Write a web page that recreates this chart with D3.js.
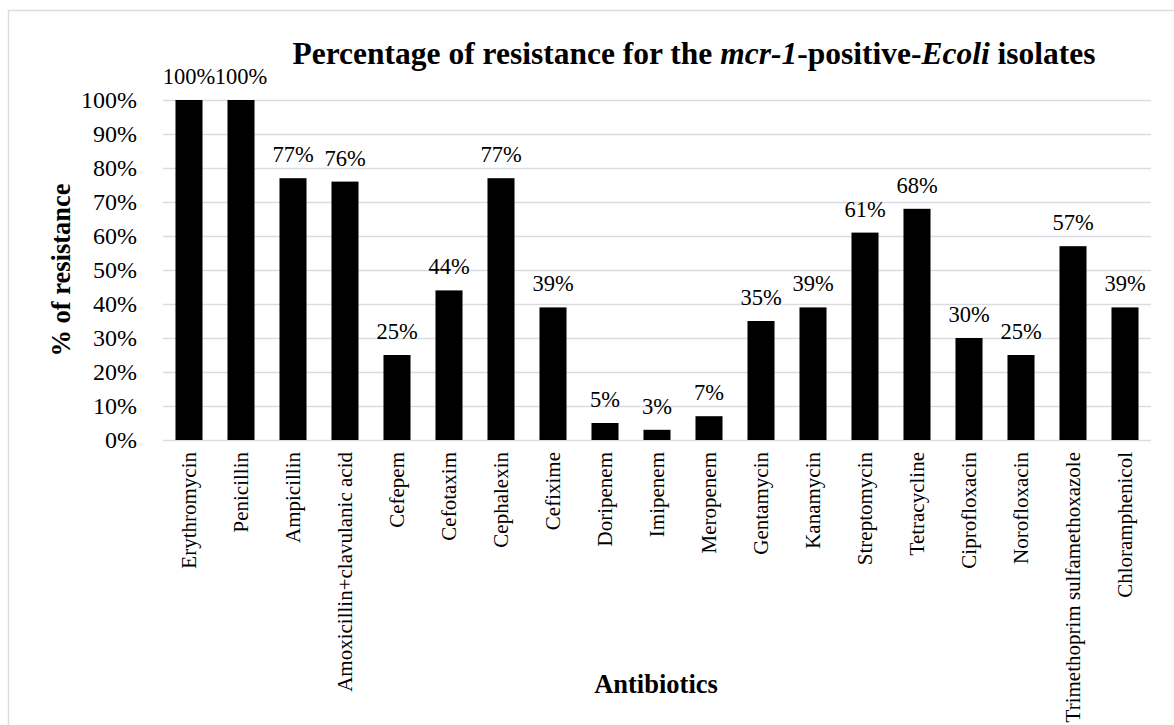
<!DOCTYPE html>
<html>
<head>
<meta charset="utf-8">
<script src="https://cdn.jsdelivr.net/npm/d3@7"></script>
<style>
  html, body { margin: 0; padding: 0; background: #ffffff; }
  svg { display: block; }
  text { font-family: "Liberation Serif", "Times New Roman", serif; fill: #000; }
</style>
</head>
<body>
<svg id="chart" width="1174" height="725"></svg>
<script>
// Antibiotic names along the x axis
const antibiotics = [
  "Erythromycin", "Penicillin", "Ampicillin", "Amoxicillin+clavulanic acid",
  "Cefepem", "Cefotaxim", "Cephalexin", "Cefixime", "Doripenem", "Imipenem",
  "Meropenem", "Gentamycin", "Kanamycin", "Streptomycin", "Tetracycline",
  "Ciprofloxacin", "Norofloxacin", "Trimethoprim sulfamethoxazole", "Chloramphenicol"
];
// Percentage of resistant isolates for each antibiotic
const resistance = [100, 100, 77, 76, 25, 44, 77, 39, 5, 3, 7, 35, 39, 61, 68, 30, 25, 57, 39];
// Y axis ticks (percent)
const yTicks = [0, 10, 20, 30, 40, 50, 60, 70, 80, 90, 100];

const svg = d3.select("#chart");

// outer frame
svg.append("rect")
  .attr("x", 8.5).attr("y", 10.5)
  .attr("width", 1200).attr("height", 800)
  .attr("fill", "none").attr("stroke", "#d9dde3").attr("stroke-width", 1.5);

const margin = { left: 163, right: 1151, top: 100, bottom: 440 };

const x = d3.scaleBand()
  .domain(antibiotics)
  .range([margin.left, margin.right])
  .paddingInner(0.48)
  .paddingOuter(0.24);

const y = d3.scaleLinear().domain([0, 100]).range([margin.bottom, margin.top]);

// gridlines + y tick labels via d3 axis
const yAxis = d3.axisLeft(y)
  .tickValues(yTicks)
  .tickSize(-(margin.right - margin.left))
  .tickPadding(26)
  .tickFormat(d => d + "%");

const gy = svg.append("g")
  .attr("transform", `translate(${margin.left},0)`)
  .call(yAxis);
gy.select(".domain").remove();
gy.selectAll(".tick line").attr("stroke", "#d9dde3").attr("stroke-width", 1.5);
gy.selectAll(".tick text")
  .attr("dy", "0.33em")
  .attr("text-anchor", "end")
  .attr("font-family", null)
  .attr("font-size", 24);

// bars
svg.append("g").selectAll("rect")
  .data(resistance)
  .join("rect")
  .attr("x", (d, i) => x(antibiotics[i]))
  .attr("y", d => y(d))
  .attr("width", x.bandwidth())
  .attr("height", d => y(0) - y(d))
  .attr("fill", "#000");

// value labels
svg.append("g").selectAll("text")
  .data(resistance)
  .join("text")
  .attr("text-anchor", "middle")
  .attr("font-size", 22.5)
  .attr("x", (d, i) => x(antibiotics[i]) + x.bandwidth() / 2)
  .attr("y", d => y(d) - 16)
  .text(d => d + "%");

// category labels, rotated
svg.append("g").selectAll("text")
  .data(antibiotics)
  .join("text")
  .attr("text-anchor", "end")
  .attr("font-size", 21)
  .attr("transform", d =>
    `translate(${x(d) + x.bandwidth() / 2 + 7},452) rotate(-90)`)
  .text(d => d);

// chart title
const title = svg.append("text")
  .attr("text-anchor", "middle")
  .attr("font-size", 31.5)
  .attr("font-weight", "bold")
  .attr("x", 694).attr("y", 64);
title.append("tspan").text("Percentage of resistance for the ");
title.append("tspan").attr("font-style", "italic").text("mcr-1");
title.append("tspan").text("-positive-");
title.append("tspan").attr("font-style", "italic").text("Ecoli");
title.append("tspan").text(" isolates");

// axis titles
svg.append("text")
  .attr("text-anchor", "middle")
  .attr("font-size", 26.5)
  .attr("font-weight", "bold")
  .attr("x", 656).attr("y", 693)
  .text("Antibiotics");

svg.append("text")
  .attr("text-anchor", "middle")
  .attr("font-size", 26.5)
  .attr("font-weight", "bold")
  .attr("transform", "translate(70,270) rotate(-90)")
  .text("% of resistance");
</script>
</body>
</html>
